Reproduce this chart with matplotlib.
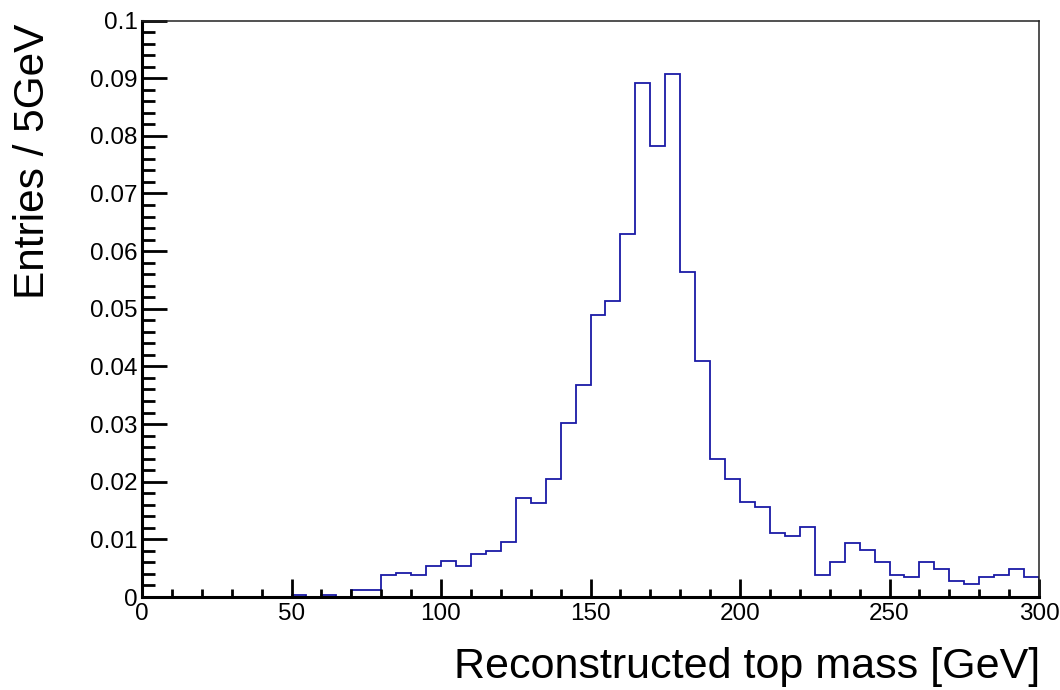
import numpy as np
import matplotlib
matplotlib.use("Agg")
import matplotlib.pyplot as plt
from matplotlib.ticker import MultipleLocator

plt.rcParams['font.family'] = ['Liberation Sans', 'DejaVu Sans']

# Histogram binning: 60 bins of 5 GeV between 0 and 300 GeV
bin_edges = np.arange(0, 305, 5)

# Normalised entries per 5 GeV bin
entries = [
    0.0, 0.0, 0.0, 0.0, 0.0, 0.0, 0.0, 0.0, 0.0, 0.0,          # 0 - 50
    0.00035, 0.0, 0.0003, 0.0, 0.0013, 0.0013,                  # 50 - 80
    0.0038, 0.0042, 0.0038, 0.0054, 0.0063, 0.0054,             # 80 - 110
    0.0075, 0.0079, 0.0096, 0.0171, 0.0163, 0.0204,             # 110 - 140
    0.0302, 0.0368, 0.0489, 0.0513, 0.0630, 0.0891,             # 140 - 170
    0.0783, 0.0908, 0.0563, 0.0410, 0.0239, 0.0205,             # 170 - 200
    0.0164, 0.0156, 0.0111, 0.0106, 0.0122, 0.0039,             # 200 - 230
    0.0061, 0.0094, 0.0081, 0.0061, 0.0039, 0.0035,             # 230 - 260
    0.0061, 0.0048, 0.0027, 0.0023, 0.0035, 0.0039,             # 260 - 290
    0.0048, 0.0035,                                             # 290 - 300
]

x_ticks = [0, 50, 100, 150, 200, 250, 300]
x_ticklabels = ["0", "50", "100", "150", "200", "250", "300"]
y_ticks = [0.0, 0.01, 0.02, 0.03, 0.04, 0.05, 0.06, 0.07, 0.08, 0.09, 0.1]
y_ticklabels = ["0", "0.01", "0.02", "0.03", "0.04", "0.05",
                "0.06", "0.07", "0.08", "0.09", "0.1"]

x_title = "Reconstructed top mass [GeV]"
y_title = "Entries / 5GeV"

W, H = 1060, 690
fig = plt.figure(figsize=(W / 100, H / 100), dpi=100)
fig.patch.set_facecolor("white")

left, right, top, bottom = 142, 1039, 20.5, 597
ax = fig.add_axes([left / W, 1 - bottom / H, (right - left) / W, (bottom - top) / H])

ax.stairs(entries, bin_edges, color="#1a1aa6", linewidth=1.3)

ax.set_xlim(0, 300)
ax.set_ylim(0, 0.1)

ax.set_xticks(x_ticks)
ax.set_xticklabels(x_ticklabels)
ax.set_yticks(y_ticks)
ax.set_yticklabels(y_ticklabels)
ax.xaxis.set_minor_locator(MultipleLocator(10))
ax.yaxis.set_minor_locator(MultipleLocator(0.002))

ax.tick_params(axis="both", which="both", direction="in", colors="black",
               labelsize=17.5, top=False, right=False)
ax.tick_params(axis="y", which="major", length=18, width=2.0, pad=3)
ax.tick_params(axis="y", which="minor", length=9, width=2.0)
ax.tick_params(axis="x", which="major", length=13, width=2.0, pad=4)
ax.tick_params(axis="x", which="minor", length=6, width=2.0)

for side in ("left", "bottom"):
    ax.spines[side].set_linewidth(2.2)
    ax.spines[side].set_color("black")
for side in ("top", "right"):
    ax.spines[side].set_linewidth(1.1)
    ax.spines[side].set_color("#222222")

fig.text(33 / W, 1 - 24 / H, y_title, rotation=90, ha="center", va="top",
         fontsize=30.5)
fig.text(1040 / W, 1 - 667 / H, x_title, ha="right", va="center",
         fontsize=31)

fig.savefig("out.png", dpi=100, facecolor="white")
